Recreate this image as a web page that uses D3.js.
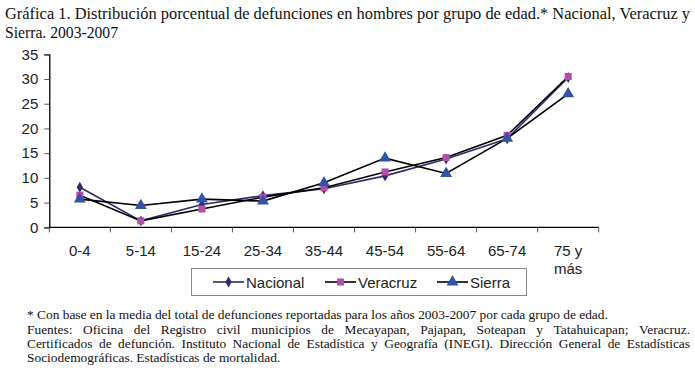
<!DOCTYPE html>
<html>
<head>
<meta charset="utf-8">
<script src="https://cdn.jsdelivr.net/npm/d3@7"></script>
<style>
  body { margin: 0; background: #fff; }
  svg { display: block; }
</style>
</head>
<body>
<div id="chart"></div>
<script>
const ageGroups = ["0-4", "5-14", "15-24", "25-34", "35-44", "45-54", "55-64", "65-74", "75 y más"];
const nacional = [8.1, 1.3, 4.6, 6.4, 7.8, 10.4, 13.8, 17.9, 30.3];
const veracruz = [6.5, 1.3, 3.7, 6.1, 8.0, 11.2, 14.1, 18.6, 30.5];
const sierra = [5.7, 4.4, 5.7, 5.3, 9.0, 14.0, 10.9, 18.0, 27.0];
const yTicks = [0, 5, 10, 15, 20, 25, 30, 35];

const titleLines = [
    "Gráfica 1. Distribución porcentual de defunciones en hombres por grupo de edad.* Nacional, Veracruz y",
    "Sierra. 2003-2007"
];
const notes = [
    "* Con base en la media del total de defunciones reportadas para los años 2003-2007 por cada grupo de edad.",
    "Fuentes: Oficina del Registro civil municipios de Mecayapan, Pajapan, Soteapan y Tatahuicapan; Veracruz.",
    "Certificados de defunción. Instituto Nacional de Estadística y Geografía (INEGI). Dirección General de Estadísticas",
    "Sociodemográficas. Estadísticas de mortalidad."
];

const series = [
    { name: "Nacional", values: nacional, line: "#2f2a6e", fill: "#2f2a6e", symbol: d3.symbolDiamond, size: 34 },
    { name: "Veracruz", values: veracruz, line: "#000000", fill: "#b24fa6", symbol: d3.symbolSquare, size: 50 },
    { name: "Sierra", values: sierra, line: "#000000", fill: "#3553a6", symbol: d3.symbolTriangle, size: 62 }
];

const W = 695, H = 372;
const plot = { left: 49.3, right: 598.7, top: 54.3, bottom: 227.3 };
const serif = "'Liberation Serif', 'Times New Roman', serif";
const sans = "'Liberation Sans', Arial, sans-serif";

const svg = d3.select("#chart").append("svg")
    .attr("width", W)
    .attr("height", H);

// Title (serif, condensed like the original)
svg.append("text")
    .attr("x", 5).attr("y", 19)
    .attr("textLength", 685)
    .attr("lengthAdjust", "spacingAndGlyphs")
    .style("font-family", serif)
    .style("font-size", "16px")
    .attr("fill", "#111")
    .text(titleLines[0]);
svg.append("text")
    .attr("x", 5).attr("y", 38)
    .attr("textLength", 113)
    .attr("lengthAdjust", "spacingAndGlyphs")
    .style("font-family", serif)
    .style("font-size", "16px")
    .attr("fill", "#111")
    .text(titleLines[1]);

const x = d3.scaleBand()
    .domain(ageGroups)
    .range([plot.left, plot.right]);
const y = d3.scaleLinear()
    .domain([0, 35])
    .range([plot.bottom, plot.top]);

// Y axis
const yAxis = svg.append("g")
    .attr("transform", `translate(${plot.left},0)`)
    .call(d3.axisLeft(y).tickValues(yTicks).tickSize(5).tickPadding(6));
yAxis.select(".domain").attr("stroke", "#000").attr("stroke-width", 1.3);
yAxis.selectAll(".tick line").attr("stroke", "#555");
yAxis.selectAll("text")
    .style("font-family", sans)
    .style("font-size", "15px")
    .attr("fill", "#222");

// X axis with ticks between categories
const xAxis = svg.append("g")
    .attr("transform", `translate(0,${plot.bottom})`);
xAxis.append("line")
    .attr("x1", plot.left).attr("x2", plot.right)
    .attr("stroke", "#000").attr("stroke-width", 1.3);
const bounds = ageGroups.map(d => x(d)).concat([plot.right]);
xAxis.selectAll(".tk")
    .data(bounds)
    .enter().append("line")
    .attr("class", "tk")
    .attr("x1", d => d).attr("x2", d => d)
    .attr("y1", 0).attr("y2", 5)
    .attr("stroke", "#555");
xAxis.selectAll(".lbl")
    .data(ageGroups)
    .enter().append("text")
    .attr("class", "lbl")
    .attr("text-anchor", "middle")
    .attr("x", d => x(d) + x.bandwidth() / 2)
    .style("font-family", sans)
    .style("font-size", "15px")
    .attr("fill", "#222")
    .each(function (d) {
        const parts = d === "75 y más" ? ["75 y", "más"] : [d];
        parts.forEach((p, i) => {
            d3.select(this).append("tspan")
                .attr("x", x(d) + x.bandwidth() / 2)
                .attr("y", 29 + i * 18)
                .text(p);
        });
    });

// Lines and markers
const line = d3.line()
    .x((d, i) => x(ageGroups[i]) + x.bandwidth() / 2)
    .y(d => y(d));

series.forEach(s => {
    svg.append("path")
        .datum(s.values)
        .attr("d", line)
        .attr("fill", "none")
        .attr("stroke", s.line)
        .attr("stroke-width", 1.6);
});
series.forEach(s => {
    svg.append("g").selectAll("path")
        .data(s.values)
        .enter().append("path")
        .attr("d", d3.symbol().type(s.symbol).size(s.size))
        .attr("transform", (d, i) => `translate(${x(ageGroups[i]) + x.bandwidth() / 2},${y(d)})`)
        .attr("fill", s.fill);
});

// Legend
const legend = svg.append("g");
legend.append("rect")
    .attr("x", 191.5).attr("y", 268.5)
    .attr("width", 335).attr("height", 27)
    .attr("fill", "#fff")
    .attr("stroke", "#888");
const legendX = [213, 325, 437];
series.forEach((s, i) => {
    const g = legend.append("g").attr("transform", `translate(${legendX[i]},282)`);
    g.append("line")
        .attr("x1", 0).attr("x2", 31)
        .attr("stroke", s.line).attr("stroke-width", 1.6);
    g.append("path")
        .attr("d", d3.symbol().type(s.symbol).size(s.size))
        .attr("transform", "translate(15.5,0)")
        .attr("fill", s.fill);
    g.append("text")
        .attr("x", 33).attr("y", 5.5)
        .style("font-family", sans)
        .style("font-size", "15px")
        .attr("fill", "#222")
        .text(s.name);
});

// Footnotes; lines 2 and 3 are justified by spreading the words
const noteY = [319, 334, 348, 362];
const noteLeft = 27, noteRight = 690;
notes.forEach((n, i) => {
    const g = svg.append("g").attr("transform", `translate(${noteLeft},${noteY[i]})`);
    if (i === 1 || i === 2) {
        const words = n.split(" ");
        const ws = g.selectAll("text")
            .data(words)
            .enter().append("text")
            .style("font-family", serif)
            .style("font-size", "13.4px")
            .attr("fill", "#111")
            .text(d => d);
        const widths = [];
        ws.each(function () { widths.push(this.getComputedTextLength()); });
        const gap = (noteRight - noteLeft - d3.sum(widths)) / (words.length - 1);
        let pos = 0;
        ws.attr("x", (d, j) => {
            const p = pos;
            pos += widths[j] + gap;
            return p;
        });
    } else {
        g.append("text")
            .style("font-family", serif)
            .style("font-size", "13.4px")
            .attr("fill", "#111")
            .text(n);
    }
});
</script>
</body>
</html>
